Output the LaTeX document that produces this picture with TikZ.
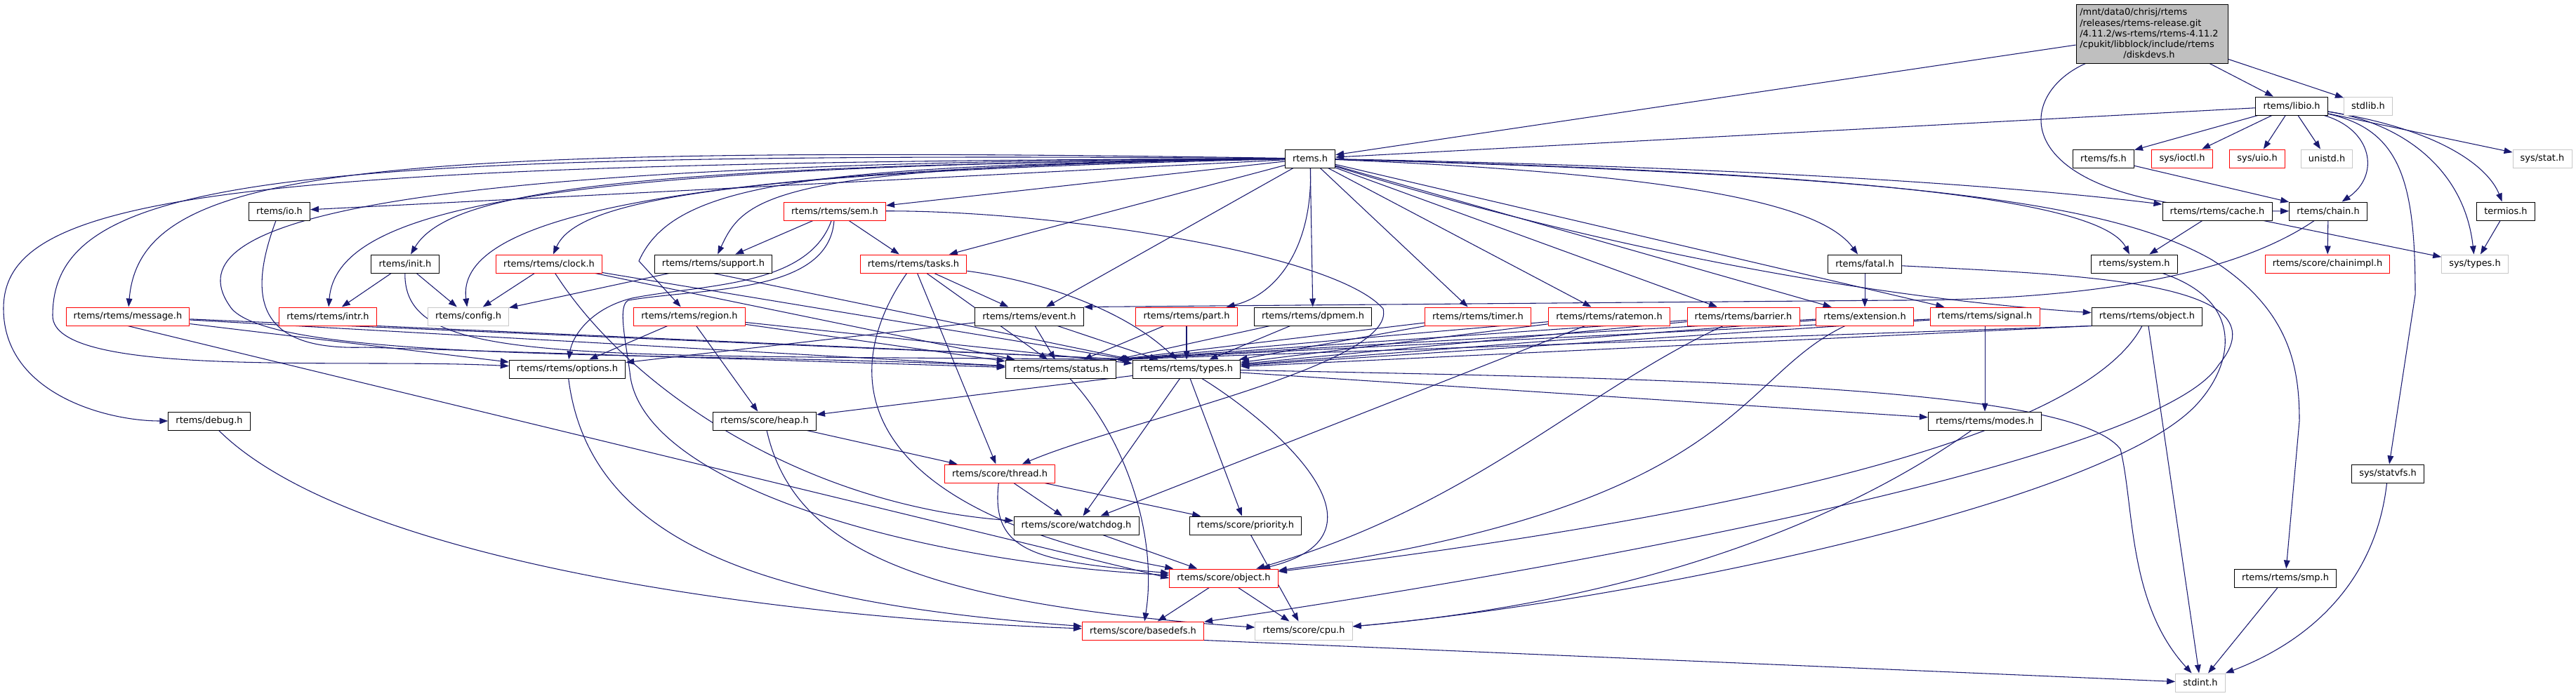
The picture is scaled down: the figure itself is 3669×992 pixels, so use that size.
\documentclass[tikz,border=0pt]{standalone}
\usepackage{fontspec}
\setmainfont{DejaVu Sans}
\usepackage{xcolor}
\usepackage{tikz}
\usetikzlibrary{arrows.meta}
\definecolor{edgeblue}{HTML}{191970}
\definecolor{extgray}{HTML}{C8C8C8}
\definecolor{maingray}{HTML}{BFBFBF}
\definecolor{filered}{HTML}{FF0000}
\pgfdeclarelayer{background}
\pgfsetlayers{background,main}
\tikzstyle{file} = [rectangle, draw=black, fill=white, line width=0.75pt,
    font=\fontsize{9.7}{11.4}\selectfont, minimum height=19.5pt, inner xsep=8pt]
\tikzstyle{file_red} = [file, draw=filered]
\tikzstyle{file_grey} = [file, draw=extgray]
\tikzstyle{file_main} = [file, fill=maingray, align=left, text width=154pt,
    inner xsep=4pt, minimum height=63pt]
\tikzstyle{incl} = [draw=edgeblue, line width=0.8pt, -{Triangle[length=9pt,width=6.5pt]}]

\begin{document}
\begin{tikzpicture}[x=0.75pt, y=-0.75pt]
    \useasboundingbox (0,0) rectangle (3669,992);
    % Place nodes
    \node [file_main] (diskdevs) at (3065,48) {/mnt/data0/chrisj/rtems\\/releases/rtems-release.git\\/4.11.2/ws-rtems/rtems-4.11.2\\/cpukit/libblock/include/rtems\\\makebox[148pt][c]{/diskdevs.h}};

    \node [file] (libio) at (3264,151) {rtems/libio.h};
    \node [file_grey] (stdlib) at (3373,151) {stdlib.h};

    \node [file] (rtems) at (1866,226) {rtems.h};
    \node [file] (fs) at (2996,226) {rtems/fs.h};
    \node [file_red] (ioctl) at (3108,226) {sys/ioctl.h};
    \node [file_red] (uio) at (3215,226) {sys/uio.h};
    \node [file_grey] (unistd) at (3314,226) {unistd.h};
    \node [file_grey] (sysstat) at (3621,226) {sys/stat.h};

    \node [file] (io) at (398,301) {rtems/io.h};
    \node [file_red] (sem) at (1189,301) {rtems/rtems/sem.h};
    \node [file] (cache) at (3158,301) {rtems/rtems/cache.h};
    \node [file] (chain) at (3316,301) {rtems/chain.h};
    \node [file] (termios) at (3569,301) {termios.h};

    \node [file] (init) at (577,376) {rtems/init.h};
    \node [file_red] (clock) at (782,376) {rtems/rtems/clock.h};
    \node [file] (support) at (1016,376) {rtems/rtems/support.h};
    \node [file_red] (tasks) at (1301,376) {rtems/rtems/tasks.h};
    \node [file] (fatal) at (2656,376) {rtems/fatal.h};
    \node [file] (system) at (3040,376) {rtems/system.h};
    \node [file_red] (chainimpl) at (3315,376) {rtems/score/chainimpl.h};
    \node [file_grey] (systypes) at (3525,376) {sys/types.h};

    \node [file_red] (message) at (182,451) {rtems/rtems/message.h};
    \node [file_red] (intr) at (467,451) {rtems/rtems/intr.h};
    \node [file_grey] (config) at (667,451) {rtems/config.h};
    \node [file_red] (region) at (982,451) {rtems/rtems/region.h};
    \node [file] (event) at (1466,451) {rtems/rtems/event.h};
    \node [file_red] (part) at (1690,451) {rtems/rtems/part.h};
    \node [file] (dpmem) at (1870,451) {rtems/rtems/dpmem.h};
    \node [file_red] (timer) at (2105,451) {rtems/rtems/timer.h};
    \node [file_red] (ratemon) at (2292,451) {rtems/rtems/ratemon.h};
    \node [file_red] (barrier) at (2483,451) {rtems/rtems/barrier.h};
    \node [file_red] (extension) at (2656,451) {rtems/extension.h};
    \node [file_red] (signal) at (2827,451) {rtems/rtems/signal.h};
    \node [file] (robject) at (3058,451) {rtems/rtems/object.h};

    \node [file] (options) at (808,526) {rtems/rtems/options.h};
    \node [file] (status) at (1511,526) {rtems/rtems/status.h};
    \node [file] (types) at (1690,526) {rtems/rtems/types.h};

    \node [file] (debug) at (298,600) {rtems/debug.h};
    \node [file] (heap) at (1089,600) {rtems/score/heap.h};
    \node [file] (modes) at (2827,600) {rtems/rtems/modes.h};

    \node [file] (statvfs) at (3401,675) {sys/statvfs.h};
    \node [file_red] (thread) at (1424,675) {rtems/score/thread.h};
    \node [file] (watchdog) at (1533,749) {rtems/score/watchdog.h};
    \node [file] (priority) at (1774,749) {rtems/score/priority.h};
    \node [file_red] (sobject) at (1743,824) {rtems/score/object.h};
    \node [file] (smp) at (3255,824) {rtems/rtems/smp.h};
    \node [file_red] (basedefs) at (1628,899) {rtems/score/basedefs.h};
    \node [file_grey] (cpu) at (1857,899) {rtems/score/cpu.h};
    \node [file_grey] (stdint) at (3134,973) {stdint.h};

    % Draw edges
    \begin{pgfonlayer}{background}
    \path [incl] (diskdevs) -- (rtems);
    \path [incl] (diskdevs) -- (libio);
    \path [incl] (diskdevs) -- (stdlib);
    \path [incl] (diskdevs) .. controls (2860,140) and (2860,300) .. (chain);

    \path [incl] (libio) -- (rtems);
    \path [incl] (libio) -- (fs);
    \path [incl] (libio) -- (ioctl);
    \path [incl] (libio) -- (uio);
    \path [incl] (libio) -- (unistd);
    \path [incl] (libio) .. controls (3380,185) and (3390,250) .. (chain);
    \path [incl] (libio) .. controls (3420,185) and (3440,260) .. (3440,420) -- (statvfs);
    \path [incl] (libio) .. controls (3420,175) and (3510,240) .. (systypes);
    \path [incl] (libio) .. controls (3480,185) and (3545,240) .. (termios);
    \path [incl] (libio) -- (sysstat);

    \path [incl] (fs) -- (chain);
    \path [incl] (chain) -- (chainimpl);
    \path [incl] (chain) .. controls (3200,380) and (3020,428) .. (2700,428) -- (event.north east);
    \path [incl] (cache) -- (system);
    \path [incl] (cache) -- (systypes);
    \path [incl] (termios) -- (systypes);
    \path [incl] (statvfs) .. controls (3385,820) and (3300,910) .. (stdint);
    \path [incl] (smp) -- (stdint);

    \path [incl] (rtems) -- (io);
    \path [incl] (rtems) .. controls (500,205) and (200,240) .. (message);
    \path [incl] (rtems) .. controls (300,230) and (5,280) .. (5,440) .. controls (5,560) and (150,600) .. (debug);
    \path [incl] (rtems) .. controls (400,215) and (75,250) .. (75,450) .. controls (75,540) and (500,510) .. (options);
    \path [incl] (rtems) .. controls (500,230) and (240,320) .. (330,440) .. controls (400,520) and (1000,500) .. (status);
    \path [incl] (rtems) .. controls (900,235) and (640,270) .. (init);
    \path [incl] (rtems) .. controls (800,235) and (480,290) .. (intr);
    \path [incl] (rtems) .. controls (900,240) and (650,320) .. (config);
    \path [incl] (rtems) .. controls (1000,245) and (820,290) .. (clock);
    \path [incl] (rtems) .. controls (1100,235) and (1060,280) .. (support);
    \path [incl] (rtems) -- (sem);
    \path [incl] (rtems) -- (tasks);
    \path [incl] (rtems) .. controls (1150,235) and (960,260) .. (910,372) -- (region);
    \path [incl] (rtems) -- (event);
    \path [incl] (rtems) .. controls (1870,350) and (1820,420) .. (part);
    \path [incl] (rtems) -- (dpmem);
    \path [incl] (rtems) -- (timer);
    \path [incl] (rtems) -- (ratemon);
    \path [incl] (rtems) -- (barrier);
    \path [incl] (rtems) -- (extension);
    \path [incl] (rtems) -- (signal);
    \path [incl] (rtems) .. controls (2200,330) and (2600,420) .. (robject);
    \path [incl] (rtems) .. controls (2450,250) and (2600,300) .. (fatal);
    \path [incl] (rtems) .. controls (2600,245) and (2990,280) .. (system);
    \path [incl] (rtems) .. controls (2600,240) and (2950,275) .. (cache);
    \path [incl] (rtems) .. controls (2700,250) and (3000,285) .. (3150,370) .. controls (3260,440) and (3275,520) .. (3275,600) -- (smp);

    \path [incl] (sem) -- (support);
    \path [incl] (sem) -- (tasks);
    \path [incl] (sem) .. controls (1150,410) and (1000,405) .. (900,425) .. controls (840,440) and (815,480) .. (options);
    \path [incl] (sem) .. controls (1180,420) and (1000,410) .. (895,428) .. controls (880,435) and (890,480) .. (897,530) .. controls (910,690) and (1300,800) .. (sobject);
    \path [incl] (sem) .. controls (1500,300) and (1900,360) .. (1970,440) .. controls (1990,520) and (1600,600) .. (thread);

    \path [incl] (init) -- (intr);
    \path [incl] (init) -- (config);
    \path [incl] (init) .. controls (575,520) and (800,505) .. (types.north west);
    \path [incl] (clock) -- (config);
    \path [incl] (clock) -- (status);
    \path [incl] (clock) -- (types);
    \path [incl] (clock) .. controls (900,560) and (1150,720) .. (watchdog);
    \path [incl] (support) -- (config);
    \path [incl] (support.south) -- (types.north west);
    \path [incl] (tasks) -- (event);
    \path [incl] (tasks) -- (status);
    \path [incl] (tasks) .. controls (1480,400) and (1600,440) .. (types);
    \path [incl] (tasks) -- (thread);
    \path [incl] (tasks) .. controls (1200,520) and (1190,720) .. (sobject);
    \path [incl] (io) .. controls (350,430) and (370,500) .. (520,495) -- (status);
    \path [incl] (fatal) -- (extension);
    \path [incl] (fatal) .. controls (2960,392) and (3260,400) .. (3160,520) .. controls (3080,650) and (2300,800) .. (basedefs);
    \path [incl] (system) .. controls (3200,430) and (3180,520) .. (3130,575) .. controls (3000,720) and (2300,860) .. (cpu);

    \path [incl] (message) -- (options);
    \path [incl] (message) -- (status);
    \path [incl] (message) -- (types.north west);
    \path [incl] (message.south) -- (sobject.west);
    \path [incl] (intr.south east) -- (types.north west);
    \path [incl] (region) -- (options);
    \path [incl] (region) -- (heap);
    \path [incl] (region) -- (status);
    \path [incl] (region) -- (types);
    \path [incl] (event) -- (options);
    \path [incl] (event) -- (status);
    \path [incl] (event) -- (types);
    \path [incl] (part) -- (status);
    \path [incl] (part) -- (types);
    \path [incl] (dpmem) -- (status.north east);
    \path [incl] (dpmem) -- (types);
    \path [incl] (timer) -- (status.north east);
    \path [incl] (timer) -- (types);
    \path [incl] (ratemon) -- (status.north east);
    \path [incl] (ratemon) -- (types);
    \path [incl] (ratemon) -- (watchdog);
    \path [incl] (barrier) -- (status.north east);
    \path [incl] (barrier) -- (types);
    \path [incl] (barrier) .. controls (2250,560) and (2100,720) .. (sobject);
    \path [incl] (extension) -- (status.north east);
    \path [incl] (extension) -- (types);
    \path [incl] (extension) .. controls (2470,540) and (2480,720) .. (sobject);
    \path [incl] (signal) -- (status.north east);
    \path [incl] (signal) -- (types);
    \path [incl] (signal) -- (modes);
    \path [incl] (robject.south west) -- (status.north east);
    \path [incl] (robject.south west) -- (types);
    \path [incl] (robject) .. controls (2980,600) and (2600,720) .. (sobject);
    \path [incl] (robject) -- (stdint);

    \path [incl] (options) .. controls (840,780) and (1100,860) .. (basedefs);
    \path [incl] (status) .. controls (1600,620) and (1650,760) .. (basedefs);
    \path [incl] (types) -- (heap);
    \path [incl] (types) -- (watchdog);
    \path [incl] (types) -- (priority);
    \path [incl] (types) .. controls (1810,600) and (2000,760) .. (sobject);
    \path [incl] (types) -- (modes);
    \path [incl] (types) .. controls (2400,540) and (2950,550) .. (3020,640) .. controls (3040,720) and (3030,860) .. (stdint);
    \path [incl] (modes) .. controls (2600,760) and (2300,860) .. (cpu);
    \path [incl] (debug) .. controls (500,800) and (1100,880) .. (basedefs);
    \path [incl] (heap) -- (thread);
    \path [incl] (heap) .. controls (1130,780) and (1300,860) .. (cpu);
    \path [incl] (thread) -- (watchdog);
    \path [incl] (thread) -- (priority);
    \path [incl] (thread) .. controls (1410,790) and (1480,800) .. (sobject);
    \path [incl] (watchdog) -- (sobject);
    \path [incl] (priority) -- (cpu);
    \path [incl] (sobject) -- (basedefs);
    \path [incl] (sobject) -- (cpu);
    \path [incl] (basedefs.south east) -- (stdint);
    \end{pgfonlayer}
\end{tikzpicture}
\end{document}
